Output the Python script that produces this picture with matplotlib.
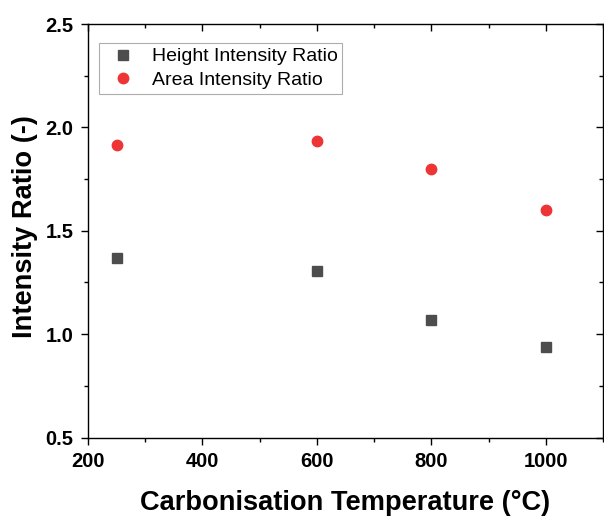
import matplotlib
matplotlib.use("Agg")
import matplotlib.pyplot as plt
from matplotlib.ticker import MultipleLocator

plt.rcParams['font.family'] = ['Liberation Sans', 'DejaVu Sans']

temperature = [250, 600, 800, 1000]
height_ratio = [1.37, 1.305, 1.07, 0.937]
area_ratio = [1.915, 1.934, 1.797, 1.60]

fig = plt.figure(figsize=(6.04, 5.19), dpi=100)
ax = fig.add_axes([88 / 604, 1 - 437.5 / 519, 515 / 604, 413.5 / 519])

ax.plot(temperature, height_ratio, 's', color='#4d4d4d', markersize=6.5,
        linestyle='none', label='Height Intensity Ratio')
ax.plot(temperature, area_ratio, 'o', color='#ee3535', markersize=7.5,
        linestyle='none', label='Area Intensity Ratio')

ax.set_xlim(200, 1100)
ax.set_ylim(0.5, 2.5)
ax.xaxis.set_major_locator(MultipleLocator(200))
ax.xaxis.set_minor_locator(MultipleLocator(100))
ax.yaxis.set_major_locator(MultipleLocator(0.5))
ax.yaxis.set_minor_locator(MultipleLocator(0.25))

ax.tick_params(which='both', direction='out', top=True, right=True,
               labelsize=14.5, width=1.0)
ax.tick_params(which='major', length=5)
ax.tick_params(which='minor', length=2.8)
ax.tick_params(axis='x', which='major', pad=5.5)
ax.tick_params(axis='y', which='major', pad=5.5)
for label in ax.get_xticklabels() + ax.get_yticklabels():
    label.set_fontweight('bold')

# Origin-style: top and right ticks point inward
for t in ax.xaxis.get_major_ticks() + ax.xaxis.get_minor_ticks():
    t.tick2line.set_marker(3)
for t in ax.yaxis.get_major_ticks() + ax.yaxis.get_minor_ticks():
    t.tick2line.set_marker(0)

for spine in ax.spines.values():
    spine.set_linewidth(1.0)

ax.set_xlabel('Carbonisation Temperature (°C)', fontsize=19.6, fontweight='bold')
ax.set_ylabel('Intensity Ratio (-)', fontsize=19.6, fontweight='bold')
ax.xaxis.set_label_coords(0.5, -0.127)
ax.yaxis.set_label_coords(-0.097, 0.511)

leg = ax.legend(loc='upper left', bbox_to_anchor=(0.0214, 0.954), fontsize=14,
                frameon=True, fancybox=False, edgecolor='#999999',
                handlelength=2.0, handletextpad=0.45, borderpad=0.25,
                labelspacing=0.3, borderaxespad=0)
leg.get_frame().set_linewidth(0.8)

fig.savefig('out.png', dpi=100)
